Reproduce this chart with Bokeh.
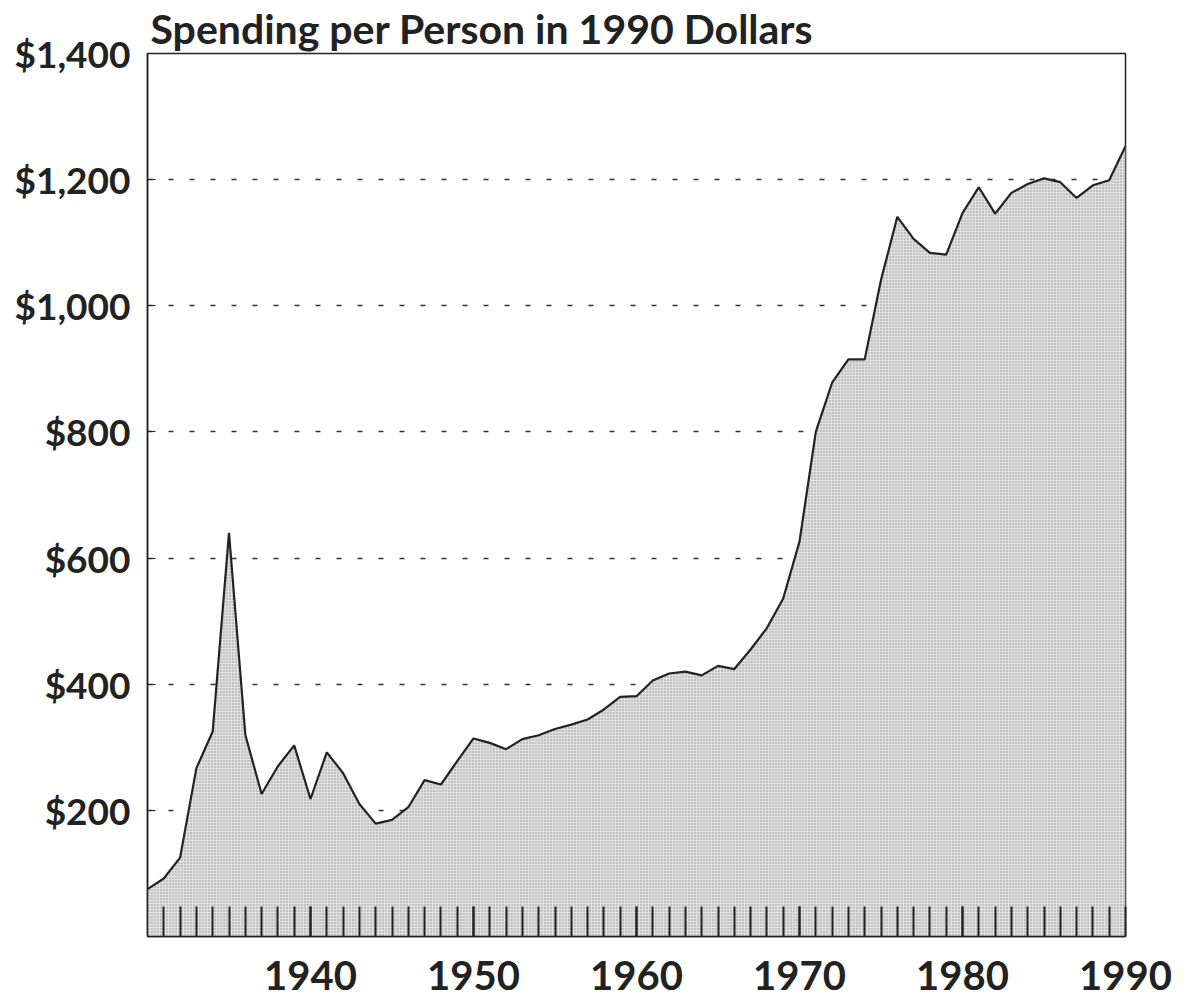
from bokeh.plotting import figure
from bokeh.models import FixedTicker, NumeralTickFormatter, ColumnDataSource
from bokeh.embed import file_html
from bokeh.resources import INLINE

years = list(range(1930, 1991))
spending = [75, 92, 125, 267, 325, 640, 320, 226, 270, 303,
            218, 292, 259, 210, 179, 185, 205, 248, 241, 278,
            314, 307, 297, 313, 319, 329, 336, 344, 360, 380,
            381, 406, 417, 420, 414, 429, 424, 455, 489, 536,
            626, 800, 878, 915, 915, 1041, 1141, 1106, 1084, 1081,
            1147, 1188, 1146, 1179, 1193, 1202, 1196, 1171, 1191, 1199,
            1253]
x_tick_labels = [1940, 1950, 1960, 1970, 1980, 1990]
y_tick_values = [200, 400, 600, 800, 1000, 1200, 1400]
title_text = "Spending per Person in 1990 Dollars"

FONT = "Lato"

src = ColumnDataSource(dict(x=years, y=spending, base=[0] * len(years)))

p = figure(width=1176, height=1000, x_range=(1930, 1990), y_range=(0, 1400),
           output_backend="svg", toolbar_location=None,
           min_border_left=147, min_border_right=51, min_border_top=52,
           min_border_bottom=64)

p.title.text = title_text
p.title.text_font = FONT
p.title.text_font_size = "41px"
p.title.text_font_style = "bold"
p.title.text_color = "#222222"
p.title.align = "left"
p.title.offset = 3
p.title.standoff = 2

p.outline_line_color = "#222222"
p.outline_line_width = 1.5
p.background_fill_color = "white"
p.border_fill_color = "white"

p.varea(x="x", y1="base", y2="y", source=src, fill_color="#e0e0e0",
        hatch_pattern="dot", hatch_color="#808080", hatch_scale=3,
        hatch_weight=1, hatch_alpha=0.8)
p.line(x="x", y="y", source=src, line_color="#222222", line_width=2.2)

# x axis
xa = p.xaxis[0]
xa.ticker = FixedTicker(ticks=x_tick_labels, minor_ticks=list(range(1931, 1990)))
xa.major_tick_in = 30
xa.major_tick_out = 0
xa.minor_tick_in = 30
xa.minor_tick_out = 0
xa.major_tick_line_color = "#222222"
xa.minor_tick_line_color = "#222222"
xa.major_tick_line_width = 2
xa.minor_tick_line_width = 2
xa.axis_line_color = "#222222"
xa.axis_line_width = 1.5
xa.major_label_text_font = FONT
xa.major_label_text_font_style = "bold"
xa.major_label_text_font_size = "40px"
xa.major_label_text_line_height = 1.0
xa.major_label_text_color = "#222222"
xa.major_label_standoff = 24

# y axis
ya = p.yaxis[0]
ya.ticker = FixedTicker(ticks=y_tick_values, minor_ticks=[])
ya.formatter = NumeralTickFormatter(format="$0,0")
ya.major_tick_in = 8
ya.major_tick_out = 0
ya.minor_tick_line_color = None
ya.major_tick_line_color = "#222222"
ya.axis_line_color = "#222222"
ya.axis_line_width = 1.5
ya.major_label_text_font = FONT
ya.major_label_text_font_style = "bold"
ya.major_label_text_font_size = "37px"
ya.major_label_text_color = "#222222"
ya.major_label_standoff = 17

p.xgrid.grid_line_color = None
p.ygrid.ticker = FixedTicker(ticks=[200, 400, 600, 800, 1000, 1200])
p.ygrid.grid_line_color = "#333333"
p.ygrid.grid_line_width = 1.5
p.ygrid.grid_line_dash = "5 16"

open("out.html", "w").write(file_html(p, INLINE))
